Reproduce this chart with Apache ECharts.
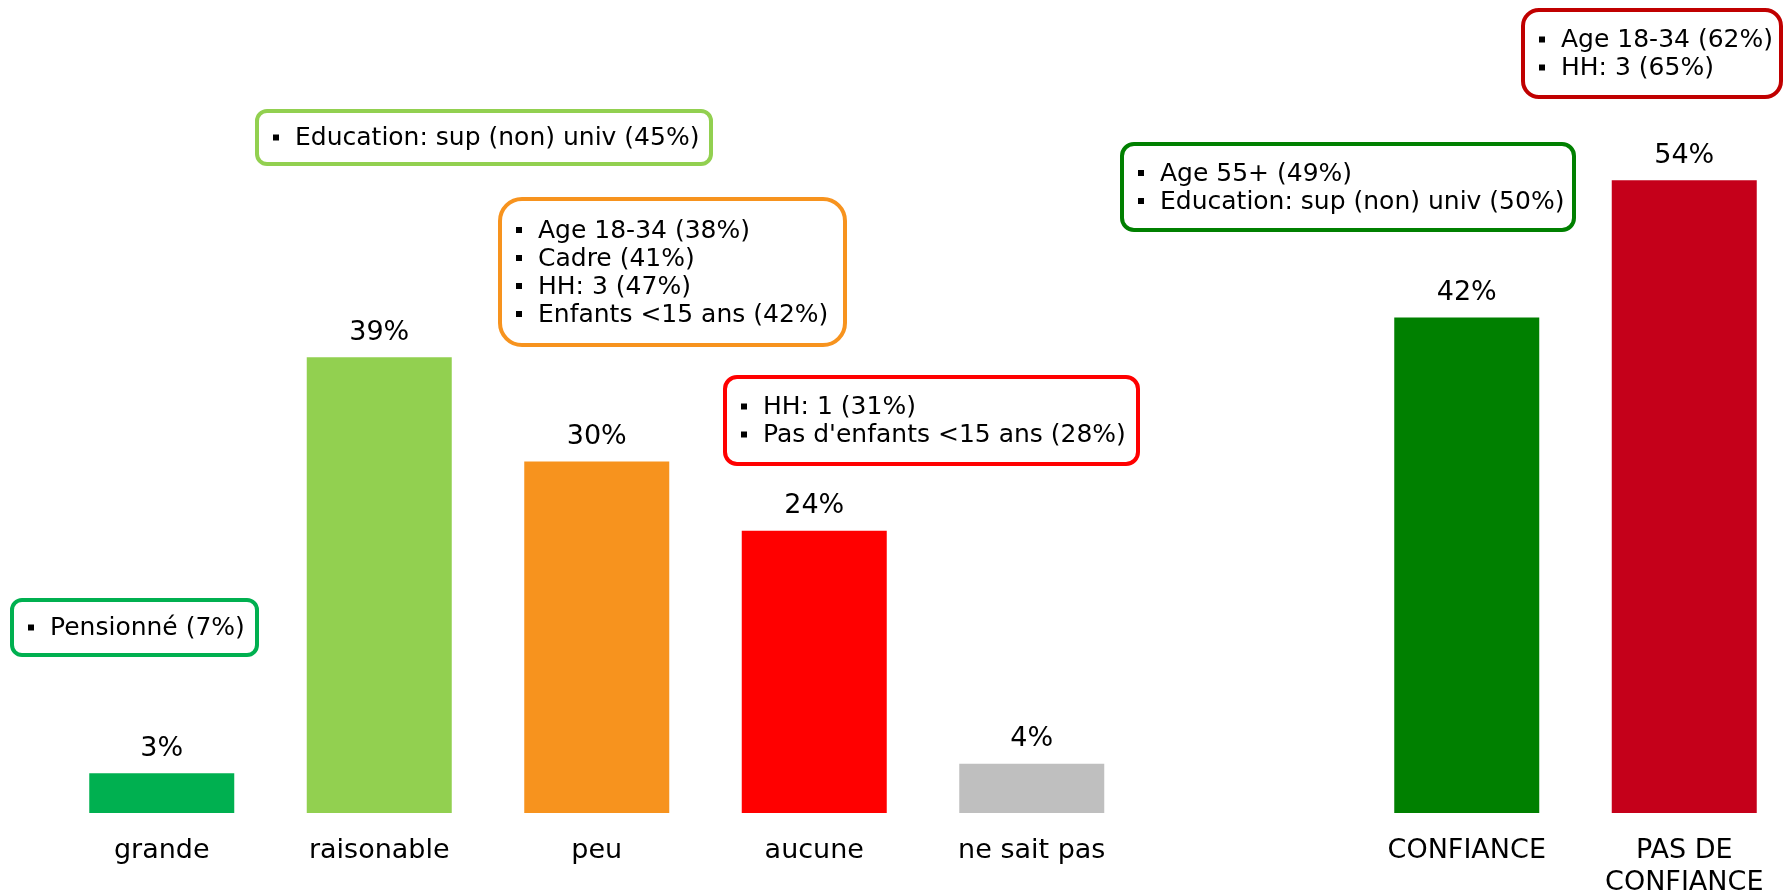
<!DOCTYPE html>
<html>
<head>
<meta charset="utf-8">
<script src="https://cdn.jsdelivr.net/npm/echarts@6/dist/echarts.min.js"></script>
<style>
  html, body { margin: 0; padding: 0; background: #fff; }
  #chart { width: 1783px; height: 892px; }
</style>
</head>
<body>
<div id="chart"></div>
<script>
// catégories (la 6e est vide : sépare les deux groupes)
var categories = ['grande', 'raisonable', 'peu', 'aucune', 'ne sait pas', '', 'CONFIANCE', 'PAS DE\nCONFIANCE'];
// valeurs en %
var values = [3.4, 38.9, 30, 24.1, 4.2, null, 42.3, 54];
var barColors = ['#00B050', '#92D050', '#F7931E', '#FF0000', '#BFBFBF', '#fff', '#008000', '#C5001A'];

// encadrés (profils sur-représentés)
var notesGrande = ['Pensionné (7%)'];
var notesRaisonable = ['Education: sup (non) univ (45%)'];
var notesPeu = ['Age 18-34 (38%)', 'Cadre (41%)', 'HH: 3 (47%)', 'Enfants <15 ans (42%)'];
var notesAucune = ['HH: 1 (31%)', "Pas d'enfants <15 ans (28%)"];
var notesConfiance = ['Age 55+ (49%)', 'Education: sup (non) univ (50%)'];
var notesPasConfiance = ['Age 18-34 (62%)', 'HH: 3 (65%)'];

var FONT = 'DejaVu Sans';

var myChart = echarts.init(document.getElementById('chart'));

// position des encadrés : x, y, largeur, hauteur, rayon
var boxes = [
  { lines: notesGrande, color: '#00B050', x: 12, y: 600, w: 245, h: 55, r: 10 },
  { lines: notesRaisonable, color: '#92D050', x: 257, y: 111, w: 454, h: 53, r: 10 },
  { lines: notesPeu, color: '#F7931E', x: 500, y: 199, w: 345, h: 146, r: 22 },
  { lines: notesAucune, color: '#FF0000', x: 725, y: 377, w: 413, h: 87, r: 12 },
  { lines: notesConfiance, color: '#008000', x: 1122, y: 144, w: 452, h: 86, r: 12 },
  { lines: notesPasConfiance, color: '#C00000', x: 1523, y: 10, w: 258, h: 87, r: 16 }
];

var graphics = [];
boxes.forEach(function (b) {
  var children = [{
    type: 'rect',
    shape: { x: b.x, y: b.y, width: b.w, height: b.h, r: b.r },
    style: { fill: '#fff', stroke: b.color, lineWidth: 4 }
  }];
  var lh = 28;
  var cy = b.y + b.h / 2;
  b.lines.forEach(function (t, i) {
    var ly = cy + (i - (b.lines.length - 1) / 2) * lh;
    children.push({
      type: 'rect',
      shape: { x: b.x + 16, y: ly - 3, width: 6, height: 6 },
      style: { fill: '#000' }
    });
    children.push({
      type: 'text',
      style: {
        text: t, x: b.x + 38, y: ly + 1,
        fill: '#000', font: '25px "' + FONT + '"',
        verticalAlign: 'middle', align: 'left'
      }
    });
  });
  graphics.push({ type: 'group', children: children });
});

var option = {
  animation: false,
  textStyle: { fontFamily: FONT },
  grid: { left: 53, width: 1740, top: 110, bottom: 79, outerBoundsMode: 'none', containLabel: false },
  xAxis: {
    type: 'category',
    data: categories,
    axisLine: { show: false },
    axisTick: { show: false },
    axisLabel: {
      interval: 0, color: '#000', fontSize: 27, lineHeight: 32, margin: 22, fontFamily: FONT
    }
  },
  yAxis: {
    type: 'value', min: 0, max: 60,
    show: false,
    splitLine: { show: false }
  },
  series: [{
    type: 'bar',
    barWidth: 145,
    data: values.map(function (v, i) {
      return { value: v, itemStyle: { color: barColors[i] } };
    }),
    label: {
      show: true, position: 'top', distance: 11,
      color: '#000', fontSize: 27, fontFamily: FONT,
      formatter: function (p) { return Math.round(p.value) + '%'; }
    }
  }],
  graphic: graphics
};

myChart.setOption(option);
</script>
</body>
</html>
